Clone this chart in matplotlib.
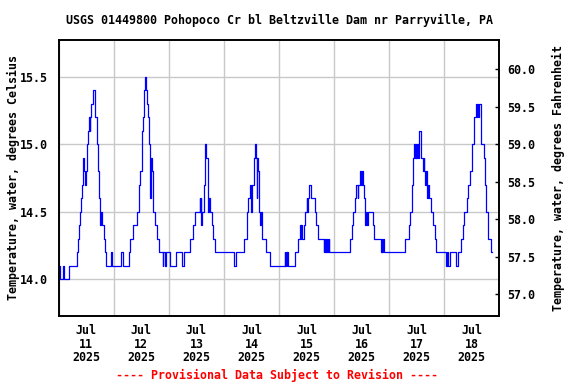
import matplotlib
matplotlib.use("Agg")
import matplotlib.pyplot as plt
import matplotlib.dates as mdates
import pandas as pd
import numpy as np

# ---- data (hours since 2025-07-11 00:00, step change points) ----
hours = [0.0, 0.5, 1.9, 2.3, 4.6, 7.85, 8.4, 8.9, 9.3, 9.7, 10.0, 10.5, 11.2, 11.5, 12.0,
         12.35, 12.8, 13.3, 13.5, 13.7, 14.0, 14.9, 16.0, 16.5, 17.0, 17.2, 17.6, 17.9, 18.2,
         18.5, 18.7, 19.8, 20.3, 20.8, 23.0, 23.4, 27.0, 28.2, 30.5, 31.1, 32.2, 34.0, 34.9,
         35.6, 36.2, 36.7, 37.2, 37.8, 38.2, 38.6, 38.8, 39.2, 39.8, 40.1, 40.7, 41.2, 42.1,
         42.7, 43.6, 45.3, 45.6, 46.3, 46.6, 48.7, 51.3, 53.7, 54.5, 57.1, 58.4, 59.3, 61.4,
         61.6, 61.8, 62.0, 62.6, 63.2, 63.8, 64.4, 64.9, 65.1, 65.3, 66.1, 66.7, 67.1, 68.1,
         76.2, 77.1, 80.9, 82.1, 82.6, 83.2, 83.8, 84.4, 85.0, 85.6, 86.1, 86.3, 86.6, 86.8,
         87.3, 87.9, 88.1, 88.7, 90.3, 92.0, 98.4, 98.7, 99.0, 99.3, 99.6, 99.9, 102.8, 104.1,
         105.1, 105.4, 105.6, 105.9, 106.8, 107.4, 108.0, 108.3, 108.6, 109.2, 109.9, 111.5,
         112.1, 112.9, 115.4, 115.7, 116.0, 116.3, 116.6, 116.9, 117.3, 117.6, 118.0, 126.9,
         127.8, 128.4, 129.0, 129.6, 130.3, 130.6, 131.4, 131.8, 132.1, 132.7, 133.0, 133.6,
         134.1, 134.4, 134.6, 137.0, 137.6, 140.4, 140.7, 141.0, 141.3, 141.6, 151.0, 152.5,
         153.2, 154.0, 154.4, 155.0, 155.3, 155.6, 155.9, 156.2, 156.5, 156.9, 157.9, 158.7,
         159.0, 159.3, 159.8, 160.1, 160.5, 160.8, 161.2, 162.3, 162.9, 163.9, 164.6, 168.8,
         169.3, 169.8, 170.4, 173.0, 173.8, 175.3, 176.0, 176.6, 177.9, 178.5, 179.4, 180.2,
         180.8, 181.7, 182.2, 182.5, 182.8, 183.2, 184.0, 185.5, 185.9, 186.3, 186.9, 188.4,
         188.8]
temp_c = [14.1, 14.0, 14.1, 14.0, 14.1, 14.2, 14.3, 14.4, 14.5, 14.6, 14.7, 14.9, 14.8, 14.7, 14.8,
          15.0, 15.1, 15.2, 15.1, 15.2, 15.3, 15.4, 15.2, 15.0, 14.9, 14.8, 14.6, 14.5, 14.4,
          14.5, 14.4, 14.3, 14.2, 14.1, 14.2, 14.1, 14.2, 14.1, 14.2, 14.3, 14.4, 14.5, 14.7,
          14.8, 15.1, 15.2, 15.4, 15.5, 15.4, 15.3, 15.2, 15.0, 14.6, 14.9, 14.8, 14.5, 14.4,
          14.3, 14.2, 14.1, 14.2, 14.1, 14.2, 14.1, 14.2, 14.1, 14.2, 14.3, 14.4, 14.5, 14.6,
          14.5, 14.6, 14.4, 14.5, 14.7, 15.0, 14.9, 14.6, 14.5, 14.6, 14.5, 14.4, 14.3, 14.2,
          14.1, 14.2, 14.3, 14.5, 14.6, 14.7, 14.5, 14.7, 14.9, 15.0, 14.9, 14.6, 14.9, 14.8,
          14.5, 14.4, 14.5, 14.3, 14.2, 14.1, 14.2, 14.1, 14.2, 14.1, 14.2, 14.1, 14.2, 14.3,
          14.4, 14.3, 14.4, 14.3, 14.4, 14.5, 14.6, 14.5, 14.6, 14.7, 14.6, 14.5,
          14.4, 14.3, 14.2, 14.3, 14.2, 14.3, 14.2, 14.3, 14.2, 14.3, 14.2, 14.3,
          14.4, 14.5, 14.6, 14.7, 14.6, 14.7, 14.8, 14.7, 14.8, 14.7, 14.6, 14.4,
          14.5, 14.4, 14.5, 14.4, 14.3, 14.2, 14.3, 14.2, 14.3, 14.2, 14.3, 14.4,
          14.5, 14.7, 14.9, 15.0, 14.9, 15.0, 14.9, 15.0, 14.9, 15.1, 14.9, 14.8,
          14.9, 14.8, 14.7, 14.8, 14.6, 14.7, 14.6, 14.5, 14.4, 14.3, 14.2, 14.1,
          14.2, 14.1, 14.2, 14.1, 14.2, 14.3, 14.4, 14.5, 14.6, 14.7, 14.8, 15.0,
          15.2, 15.3, 15.2, 15.3, 15.2, 15.3, 15.0, 14.9, 14.7, 14.5, 14.3, 14.2,
          14.2]

title = "USGS 01449800 Pohopoco Cr bl Beltzville Dam nr Parryville, PA"
left_label = "Temperature, water, degrees Celsius"
right_label = "Temperature, water, degrees Fahrenheit"
footer = "---- Provisional Data Subject to Revision ----"
c_ticks = [14.0, 14.5, 15.0, 15.5]
f_ticks = [57.0, 57.5, 58.0, 58.5, 59.0, 59.5, 60.0]

start = pd.Timestamp("2025-07-11 00:00")
times = start + pd.to_timedelta(hours, unit="h")

FONT = "DejaVu Sans Mono"
FS = 8.4
plt.rcParams["font.family"] = FONT
plt.rcParams["font.weight"] = "bold"

fig = plt.figure(figsize=(5.76, 3.84), dpi=100)
ax = fig.add_axes([58.7 / 576, 1 - 316 / 384, (499.3 - 58.7) / 576, (316 - 40) / 384])

ax.plot(times, temp_c, color="#0000ff", lw=0.9, drawstyle="steps-post", zorder=3)

ax.set_xlim(start, start + pd.Timedelta(days=8))
ax.set_ylim(13.726, 15.772)

# x axis: labels at noon, gridlines at midnight
ax.xaxis.set_major_locator(mdates.HourLocator(byhour=[12]))
ax.xaxis.set_major_formatter(mdates.DateFormatter("%b\n%d\n%Y"))
ax.xaxis.set_minor_locator(mdates.DayLocator())
ax.tick_params(axis="x", which="major", length=0, pad=6, labelsize=FS)
ax.tick_params(axis="x", which="minor", length=0)
for lab in ax.get_xticklabels():
    lab.set_linespacing(1.05)
    lab.set_fontweight("bold")
ax.grid(True, which="minor", axis="x", color="#c8c8c8", lw=1.0)
ax.grid(False, which="major", axis="x")

ax.set_yticks(c_ticks)
ax.set_yticklabels([f"{v:.1f}" for v in c_ticks], fontweight="bold")
ax.tick_params(axis="y", length=0, pad=8, labelsize=FS)
ax.grid(True, which="major", axis="y", color="#c8c8c8", lw=1.0)
ax.set_axisbelow(True)

for s in ax.spines.values():
    s.set_linewidth(1.2)
    s.set_color("black")

ax2 = ax.twinx()
lo, hi = ax.get_ylim()
ax2.set_ylim(lo * 1.8 + 32, hi * 1.8 + 32)
ax2.set_yticks(f_ticks)
ax2.set_yticklabels([f"{v:.1f}" for v in f_ticks], fontweight="bold")
ax2.tick_params(axis="y", direction="in", length=3, width=1, pad=6, labelsize=FS)
for s in ax2.spines.values():
    s.set_linewidth(1.2)

fig.text(0.5 * (58.7 + 499.3) / 576, 1 - 20 / 384, title, ha="center", va="center",
         fontsize=FS, fontweight="bold")
fig.text(13 / 576, 1 - 178 / 384, left_label, rotation=90, ha="center", va="center",
         fontsize=FS, fontweight="bold")
fig.text(558 / 576, 1 - 178 / 384, right_label, rotation=90, ha="center", va="center",
         fontsize=FS, fontweight="bold")
fig.text(277 / 576, 1 - 375 / 384, footer, ha="center", va="center",
         fontsize=FS, fontweight="bold", color="#ff0000")

fig.savefig("out.png", dpi=100)
